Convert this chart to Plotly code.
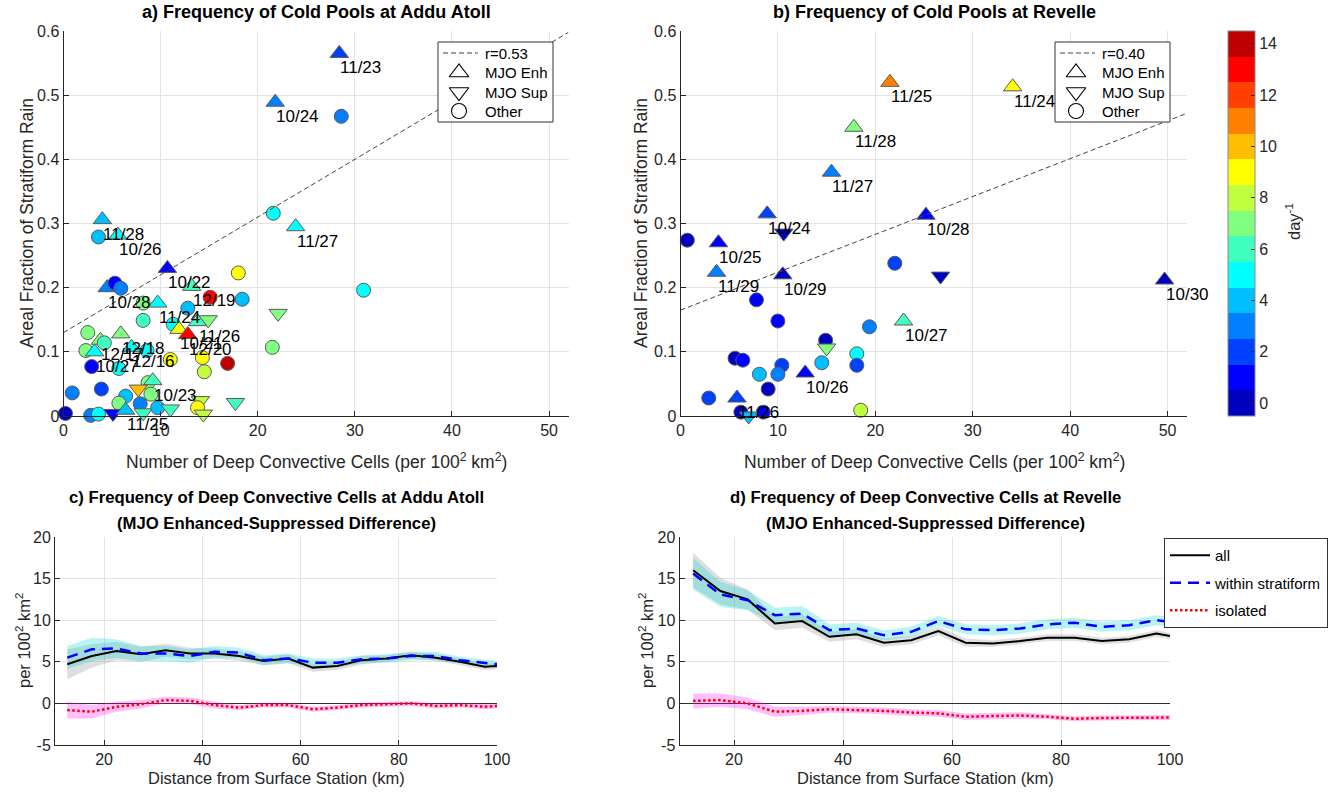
import numpy as np
import plotly.graph_objects as go

# ---------------- data ----------------
# Panel a: Addu Atoll  (x = deep convective cells per 100^2 km^2, y = stratiform fraction)
a_x = [28.4, 21.8, 28.6, 4.0, 3.6, 5.6, 10.7, 4.5, 5.3, 5.9, 18.0, 13.2, 15.1, 18.4, 30.9, 21.6,
       23.9, 9.7, 8.2, 8.2, 12.8, 11.3, 11.9, 13.8, 14.9, 12.8, 2.5, 3.8, 4.2, 5.9, 2.3, 3.2,
       7.0, 8.6, 2.9, 5.7, 11.0, 14.3, 16.9, 14.5, 0.9, 3.9, 8.7, 9.2, 7.7, 9.0, 6.4, 5.7,
       0.2, 2.8, 3.6, 5.1, 6.4, 7.9, 8.2, 9.7, 11.0, 14.1, 13.8, 14.4, 17.7, 22.1, 21.5]
a_y = [0.565, 0.489, 0.467, 0.306, 0.279, 0.282, 0.230, 0.200, 0.207, 0.199, 0.223, 0.202,
       0.185, 0.182, 0.196, 0.316, 0.295, 0.176, 0.176, 0.149, 0.168, 0.143, 0.135, 0.147,
       0.150, 0.127, 0.130, 0.118, 0.114, 0.128, 0.102, 0.100, 0.107, 0.102, 0.077, 0.074,
       0.088, 0.091, 0.082, 0.069, 0.036, 0.042, 0.052, 0.055, 0.042, 0.034, 0.031, 0.020,
       0.004, 0.001, 0.003, 0.004, 0.009, 0.019, 0.005, 0.013, 0.011, 0.024, 0.013, 0.003,
       0.021, 0.160, 0.107]
a_val = [2, 3, 3, 4, 4, 5, 1, 3, 1, 3, 9, 6, 13, 4, 5, 5, 5, 5, 7, 6, 4, 5, 9, 6, 7, 13, 7, 7,
         6, 7, 7, 5, 5, 5, 1, 5, 9, 9, 14, 8, 3, 2, 7, 6, 10, 7, 4, 7, 0, 3, 5, 1, 4, 3, 6, 4,
         6, 8, 9, 8, 6, 7, 7]
a_type = ["E", "E", "O", "E", "O", "E", "E", "E", "O", "O", "O", "E", "O", "O", "O", "O",
          "E", "E", "O", "O", "O", "O", "E", "E", "S", "E", "O", "E", "O", "E", "O", "E",
          "E", "O", "O", "O", "O", "O", "O", "O", "O", "O", "O", "E", "S", "O", "O", "O",
          "O", "O", "O", "S", "E", "O", "S", "O", "S", "S", "O", "S", "S", "S", "O"]
a_label = ["11/23", "10/24", "", "11/28", "", "10/26", "10/22", "10/28", "", "", "", "12/19",
           "", "", "", "", "11/27", "11/24", "", "", "", "", "10/21", "11/26", "", "12/20",
           "", "12/17", "", "12/18", "", "10/27", "12/16", "", "", "", "", "", "", "", "",
           "", "", "10/23", "", "", "", "", "", "", "", "", "11/25", "", "", "", "", "",
           "", "", "", "", ""]
a_fit = [0.130, 0.0090]   # intercept, slope
a_r = "r=0.53"

# Panel b: Revelle
b_x = [21.5, 34.1, 17.8, 15.5, 8.9, 10.6, 0.7, 3.9, 3.7, 10.5, 7.8, 10.0, 22.0, 25.2, 26.7,
       19.4, 22.9, 14.9, 15.0, 5.6, 6.4, 10.4, 8.1, 10.0, 12.8, 14.5, 18.1, 18.1, 9.0, 2.9,
       5.8, 6.2, 8.5, 7.0, 18.5, 49.7]
b_y = [0.520, 0.513, 0.450, 0.380, 0.315, 0.285, 0.274, 0.270, 0.224, 0.220, 0.181, 0.148,
       0.238, 0.313, 0.218, 0.139, 0.148, 0.118, 0.106, 0.090, 0.087, 0.079, 0.065, 0.065,
       0.067, 0.083, 0.097, 0.079, 0.042, 0.028, 0.028, 0.006, 0.006, 0.000, 0.009, 0.212]
b_val = [11, 9, 7, 3, 2, 0, 0, 1, 3, 0, 1, 1, 2, 1, 0, 3, 6, 0, 7, 0, 1, 2, 4, 3, 1, 4, 5,
         2, 0, 2, 2, 0, 1, 4, 8, 0]
b_type = ["E", "E", "E", "E", "E", "S", "O", "E", "E", "E", "O", "O", "O", "E", "S", "O",
          "E", "O", "S", "O", "O", "O", "O", "O", "E", "O", "O", "O", "O", "O", "E", "O",
          "O", "S", "O", "E"]
b_label = ["11/25", "11/24", "11/28", "11/27", "10/24", "", "", "10/25", "11/29", "10/29",
           "", "", "", "10/28", "", "", "10/27", "", "", "", "", "", "", "", "10/26", "",
           "", "", "", "", "11/26", "", "", "", "", "10/30"]
b_fit = [0.165, 0.0059]
b_r = "r=0.40"

legend_names = ["MJO Enh", "MJO Sup", "Other"]

# Panels c, d: distance bins (km)
dist = [12.5, 17.5, 22.5, 27.5, 32.5, 37.5, 42.5, 47.5, 52.5, 57.5, 62.5, 67.5, 72.5,
        77.5, 82.5, 87.5, 92.5, 97.5, 100.0]

c_all = [4.7, 5.7, 6.3, 5.9, 6.4, 6.0, 6.0, 5.7, 5.1, 5.4, 4.3, 4.5, 5.2, 5.4, 5.8, 5.5, 5.0, 4.4, 4.5]
c_strat = [5.5, 6.5, 6.6, 6.0, 6.0, 5.7, 6.2, 6.1, 5.2, 5.4, 4.9, 4.9, 5.3, 5.4, 5.7, 5.7, 5.2, 4.9, 4.7]
c_iso = [-0.8, -1.0, -0.4, -0.1, 0.4, 0.3, -0.2, -0.5, -0.2, -0.2, -0.7, -0.5, -0.2, -0.1, 0.0,
         -0.3, -0.2, -0.4, -0.3]
c_all_err = [1.8, 1.4, 1.1, 0.9, 0.8, 0.7, 0.6, 0.6, 0.5, 0.5, 0.5, 0.5, 0.5, 0.4, 0.4, 0.4, 0.4, 0.4, 0.4]
c_strat_err = [1.4, 1.4, 1.1, 0.9, 0.9, 0.8, 0.7, 0.6, 0.6, 0.6, 0.5, 0.5, 0.5, 0.5, 0.5, 0.5, 0.4, 0.4, 0.4]
c_iso_err = [1.0, 0.8, 0.6, 0.5, 0.4, 0.4, 0.4, 0.3, 0.3, 0.3, 0.3, 0.3, 0.3, 0.3, 0.3, 0.3, 0.3, 0.3, 0.3]

d_all = [16.0, 13.5, 12.5, 9.6, 9.9, 8.0, 8.3, 7.3, 7.6, 8.7, 7.3, 7.2, 7.5, 7.9, 7.9, 7.5, 7.7, 8.4, 8.1]
d_strat = [15.6, 13.1, 12.4, 10.6, 10.8, 8.8, 9.0, 8.2, 8.6, 9.9, 8.9, 8.8, 9.0, 9.5, 9.7, 9.2, 9.4, 10.0, 9.8]
d_iso = [0.3, 0.4, 0.0, -1.0, -0.9, -0.7, -0.8, -0.9, -1.1, -1.2, -1.6, -1.5, -1.45, -1.6, -1.85,
         -1.75, -1.75, -1.7, -1.7]
d_all_err = [2.1, 1.6, 1.2, 0.8, 0.8, 0.6, 0.6, 0.5, 0.5, 0.5, 0.5, 0.4, 0.4, 0.4, 0.4, 0.4, 0.4, 0.4, 0.4]
d_strat_err = [1.9, 1.5, 1.2, 0.9, 0.9, 0.7, 0.7, 0.6, 0.6, 0.6, 0.6, 0.6, 0.6, 0.6, 0.6, 0.6, 0.6, 0.6, 0.6]
d_iso_err = [0.9, 0.8, 0.7, 0.6, 0.5, 0.4, 0.4, 0.4, 0.4, 0.4, 0.4, 0.4, 0.4, 0.3, 0.3, 0.3, 0.3, 0.3, 0.3]

cbar_ticks = [0, 2, 4, 6, 8, 10, 12, 14]

# ---------------- styling ----------------
W, H = 1330, 797
FONT = "Liberation Sans, Arial, Helvetica, sans-serif"
AX = "#262626"
GRID = "#e3e3e3"


def fx(p):
    return p / W


def fy(p):
    return 1 - p / H


jet15 = [(0, 0, .75), (0, 0, 1), (0, .25, 1), (0, .5, 1), (0, .75, 1), (0, 1, 1),
         (.25, 1, .75), (.5, 1, .5), (.75, 1, .25), (1, 1, 0), (1, .75, 0), (1, .5, 0),
         (1, .25, 0), (1, 0, 0), (.75, 0, 0)]
cscale = []
for i, c in enumerate(jet15):
    col = "rgb(%d,%d,%d)" % tuple(int(round(v * 255)) for v in c)
    cscale.append([i / 15, col])
    cscale.append([(i + 1) / 15, col])

SYM = {"E": "triangle-up", "S": "triangle-down", "O": "circle"}
SIZE = {"E": 16, "S": 16, "O": 14}
FIT_LINE = dict(color="#444444", width=1, dash="5px,3px")

fig = go.Figure()
annotations = []
extra_axes = {}


def scatter_panel(xs, ys, vals, types, labels, fit, xa, ya):
    fig.add_trace(go.Scatter(
        x=xs, y=ys, mode="markers", xaxis=xa, yaxis=ya, showlegend=False, cliponaxis=False,
        marker=dict(color=vals, coloraxis="coloraxis", symbol=[SYM[t] for t in types],
                    size=[SIZE[t] for t in types], opacity=1,
                    line=dict(color="#5a5a5a", width=1))))
    lx = np.array([0.0, 52.0])
    ly = fit[0] + fit[1] * lx
    fig.add_trace(go.Scatter(x=lx, y=ly, mode="lines", xaxis=xa, yaxis=ya, showlegend=False,
                             line=FIT_LINE, hoverinfo="skip"))
    for x, y, lab in zip(xs, ys, labels):
        if lab:
            annotations.append(dict(x=x, y=y, xref=xa, yref=ya, text=lab, showarrow=False,
                                    xanchor="left", yanchor="top", xshift=-1, yshift=-3,
                                    font=dict(size=17, color="black", family=FONT)))


def box_legend(idx, left, top, rlab):
    """Legend box drawn in its own small overlay subplot (pixel-like units)."""
    bw, bh = 115, 80
    rows = [11, 30.5, 50, 69]
    xa, ya = "x%d" % idx, "y%d" % idx
    extra_axes["xaxis%d" % idx] = dict(domain=[fx(left - 1), fx(left + bw + 1)],
                                       range=[-1, bw + 1], visible=False, fixedrange=True,
                                       anchor=ya)
    extra_axes["yaxis%d" % idx] = dict(domain=[fy(top + bh + 1), fy(top - 1)],
                                       range=[bh + 1, -1], visible=False, fixedrange=True,
                                       anchor=xa)
    fig.add_trace(go.Scatter(x=[0, bw, bw, 0, 0], y=[0, 0, bh, bh, 0], mode="lines",
                             fill="toself", fillcolor="white",
                             line=dict(color="#333333", width=1), xaxis=xa, yaxis=ya,
                             showlegend=False, hoverinfo="skip"))
    fig.add_trace(go.Scatter(x=[5, 40], y=[rows[0], rows[0]], mode="lines", line=FIT_LINE,
                             xaxis=xa, yaxis=ya, showlegend=False, hoverinfo="skip"))
    fig.add_trace(go.Scatter(
        x=[21, 21, 21], y=rows[1:], mode="markers", xaxis=xa, yaxis=ya, showlegend=False,
        hoverinfo="skip", cliponaxis=False,
        marker=dict(symbol=["triangle-up-open", "triangle-down-open", "circle-open"],
                    size=[17, 17, 15], opacity=1, color="black",
                    line=dict(width=1.1, color="black"))))
    for r, txt in zip(rows, [rlab] + legend_names):
        annotations.append(dict(x=45, y=r, xref=xa, yref=ya, text=txt, showarrow=False,
                                xanchor="left", yanchor="middle",
                                font=dict(size=15, color="black", family=FONT)))


scatter_panel(a_x, a_y, a_val, a_type, a_label, a_fit, "x", "y")
scatter_panel(b_x, b_y, b_val, b_type, b_label, b_fit, "x2", "y2")


def band(xs, mid, err, color, xa, ya):
    up = [m + e for m, e in zip(mid, err)]
    lo = [m - e for m, e in zip(mid, err)]
    fig.add_trace(go.Scatter(x=list(xs) + list(xs)[::-1], y=up + lo[::-1], fill="toself",
                             fillcolor=color, line=dict(width=0), mode="lines",
                             hoverinfo="skip", showlegend=False, xaxis=xa, yaxis=ya))


def line_panel(allv, strat, iso, e_all, e_strat, e_iso, xa, ya, show):
    band(dist, allv, e_all, "rgba(150,150,150,0.30)", xa, ya)
    band(dist, strat, e_strat, "rgba(0,215,215,0.28)", xa, ya)
    band(dist, iso, e_iso, "rgba(255,0,255,0.25)", xa, ya)
    fig.add_trace(go.Scatter(x=dist, y=allv, mode="lines", name="all", xaxis=xa, yaxis=ya,
                             line=dict(color="black", width=2), showlegend=show,
                             legend="legend3", legendgroup="g1"))
    fig.add_trace(go.Scatter(x=dist, y=strat, mode="lines", name="within stratiform",
                             xaxis=xa, yaxis=ya, showlegend=show, legend="legend3",
                             legendgroup="g2",
                             line=dict(color="#0000ff", width=2.5, dash="11px,7px")))
    fig.add_trace(go.Scatter(x=dist, y=iso, mode="lines", name="isolated", xaxis=xa,
                             yaxis=ya, showlegend=show, legend="legend3", legendgroup="g3",
                             line=dict(color="#ff0000", width=2.5, dash="2.5px,2.5px")))


line_panel(c_all, c_strat, c_iso, c_all_err, c_strat_err, c_iso_err, "x3", "y3", False)
line_panel(d_all, d_strat, d_iso, d_all_err, d_strat_err, d_iso_err, "x4", "y4", True)

box_legend(5, 438, 42, a_r)
box_legend(6, 1055, 42, b_r)

axis_common = dict(showline=True, linecolor=AX, linewidth=1, mirror=False, ticks="inside",
                   ticklen=5, tickcolor=AX, showgrid=True, gridcolor=GRID, gridwidth=1,
                   zeroline=False, tickfont=dict(size=16, color=AX, family=FONT))

sc_xt = [0, 10, 20, 30, 40, 50]
sc_yt = [0, 0.1, 0.2, 0.3, 0.4, 0.5, 0.6]
sc_ytt = ["0", "0.1", "0.2", "0.3", "0.4", "0.5", "0.6"]
ln_xt = [20, 40, 60, 80, 100]
ln_yt = [-5, 0, 5, 10, 15, 20]
ln_ytt = ["-5", "0", "5", "10", "15", "20"]

top_y = [fy(416), fy(31)]
bot_y = [fy(745), fy(537)]

fig.update_layout(
    xaxis=dict(axis_common, domain=[fx(63.5), fx(568.5)], range=[0, 52], anchor="y",
               tickvals=sc_xt),
    yaxis=dict(axis_common, domain=top_y, range=[0, 0.6], anchor="x", tickvals=sc_yt,
               ticktext=sc_ytt),
    xaxis2=dict(axis_common, domain=[fx(680.5), fx(1187)], range=[0, 52], anchor="y2",
                tickvals=sc_xt),
    yaxis2=dict(axis_common, domain=top_y, range=[0, 0.6], anchor="x2", tickvals=sc_yt,
                ticktext=sc_ytt),
    xaxis3=dict(axis_common, domain=[fx(55), fx(497)], range=[10, 100], anchor="y3",
                tickvals=ln_xt),
    yaxis3=dict(axis_common, domain=bot_y, range=[-5, 20], anchor="x3", tickvals=ln_yt,
                ticktext=ln_ytt, zeroline=True, zerolinecolor="#303030", zerolinewidth=1),
    xaxis4=dict(axis_common, domain=[fx(679.5), fx(1170)], range=[10, 100], anchor="y4",
                tickvals=ln_xt),
    yaxis4=dict(axis_common, domain=bot_y, range=[-5, 20], anchor="x4", tickvals=ln_yt,
                ticktext=ln_ytt, zeroline=True, zerolinecolor="#303030", zerolinewidth=1),
    coloraxis=dict(
        colorscale=cscale, cmin=-0.5, cmax=14.5,
        colorbar=dict(x=fx(1228), xanchor="left", y=fy(31), yanchor="top",
                      len=385 / H, lenmode="fraction", thickness=27, thicknessmode="pixels",
                      xpad=0, ypad=0, tickvals=cbar_ticks, ticks="inside", ticklen=4,
                      tickcolor=AX, outlinecolor="#8a8a8a", outlinewidth=1,
                      tickfont=dict(size=16, color=AX, family=FONT))),
    legend3=dict(x=fx(1164), y=fy(538), xanchor="left", yanchor="top", bgcolor="white",
                 bordercolor="#333333", borderwidth=1,
                 font=dict(size=15, color="black", family=FONT),
                 tracegroupgap=5, itemwidth=40),
    width=W, height=H, autosize=False,
    margin=dict(l=0, r=0, t=0, b=0, autoexpand=False),
    paper_bgcolor="white", plot_bgcolor="rgba(0,0,0,0)",
    font=dict(family=FONT, color=AX),
)
fig.update_layout(**extra_axes)

TFT = dict(size=18, color="black", family=FONT)
TF = dict(size=16.7, color="black", family=FONT)
LFT = dict(size=17.5, color=AX, family=FONT)
LF = dict(size=16.5, color=AX, family=FONT)
texts = [
    dict(x=fx(316), y=fy(12), text="<b>a) Frequency of Cold Pools at Addu Atoll</b>", font=TFT),
    dict(x=fx(934), y=fy(12), text="<b>b) Frequency of Cold Pools at Revelle</b>", font=TFT),
    dict(x=fx(276), y=fy(497),
         text="<b>c) Frequency of Deep Convective Cells at Addu Atoll</b>", font=TF),
    dict(x=fx(276), y=fy(523),
         text="<b>(MJO Enhanced-Suppressed Difference)</b>", font=TF),
    dict(x=fx(925), y=fy(497),
         text="<b>d) Frequency of Deep Convective Cells at Revelle</b>", font=TF),
    dict(x=fx(925), y=fy(523),
         text="<b>(MJO Enhanced-Suppressed Difference)</b>", font=TF),
    dict(x=fx(316), y=fy(461),
         text="Number of Deep Convective Cells (per 100<sup>2</sup> km<sup>2</sup>)", font=LFT),
    dict(x=fx(934), y=fy(461),
         text="Number of Deep Convective Cells (per 100<sup>2</sup> km<sup>2</sup>)", font=LFT),
    dict(x=fx(27), y=fy(223), text="Areal Fraction of Stratiform Rain", font=LFT, textangle=-90),
    dict(x=fx(641), y=fy(223), text="Areal Fraction of Stratiform Rain", font=LFT, textangle=-90),
    dict(x=fx(276), y=fy(778), text="Distance from Surface Station (km)", font=LF),
    dict(x=fx(925), y=fy(778), text="Distance from Surface Station (km)", font=LF),
    dict(x=fx(23), y=fy(641), text="per 100<sup>2</sup> km<sup>2</sup>", font=LF, textangle=-90),
    dict(x=fx(646), y=fy(641), text="per 100<sup>2</sup> km<sup>2</sup>", font=LF, textangle=-90),
    dict(x=fx(1293), y=fy(222), text="day<sup>-1</sup>", font=LF, textangle=-90),
]
for t in texts:
    t.update(xref="paper", yref="paper", showarrow=False, xanchor="center", yanchor="middle")
    annotations.append(t)

fig.update_layout(annotations=annotations)

fig.write_html("out.html", config={"displayModeBar": False},
               post_script="document.body.style.margin='0';document.body.style.overflow='hidden';")
